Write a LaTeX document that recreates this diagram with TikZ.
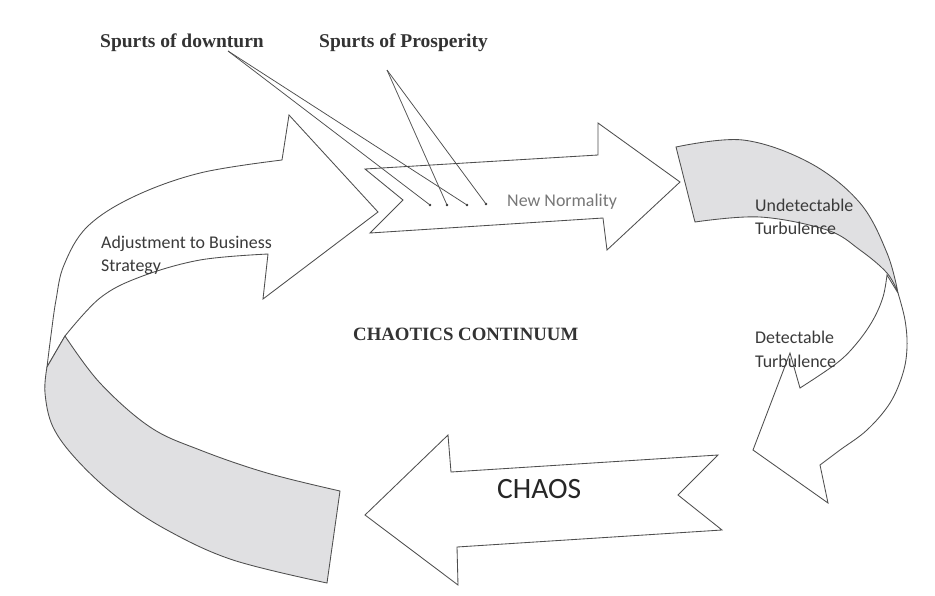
\documentclass[tikz,border=0pt]{standalone}
\usepackage{fontspec}
\setmainfont{Liberation Serif}
\newfontfamily\calib{Carlito}
\definecolor{linegray}{HTML}{4E4E4E}
\definecolor{bandgray}{HTML}{E0E0E2}
\definecolor{txtgray}{HTML}{3A3A3A}
\definecolor{softtxt}{HTML}{777777}
\begin{document}
\begin{tikzpicture}[x=1pt,y=-1pt,
  band/.style={draw=linegray, line width=0.85pt, fill=white, line join=miter},
  shade/.style={draw=linegray, line width=0.85pt, fill=bandgray},
  sanslabel/.style={inner sep=0, anchor=base west, font=\calib\fontsize{17.9}{23.5}\selectfont, text=txtgray},
  seriflabel/.style={inner sep=0, anchor=base west, font=\bfseries\fontsize{19.5}{23}\selectfont, text=black!80},
  leader/.style={draw=linegray, line width=0.75pt},
  dot/.style={circle, fill=black!80, inner sep=0, minimum size=2.6pt}]
\useasboundingbox[fill=white] (0,0) rectangle (935,595);

% left ribbon rising into the upper arrow
\path[band] plot[smooth, tension=0.6] coordinates {(47,367) (51,335) (56,300) (64,265) (87,227) (133,197) (200,173) (282,160)}
  -- (289,115) -- (378,212) -- (263,299) -- (268,254)
  -- plot[smooth, tension=0.6] coordinates {(268,254) (200,260) (140,277) (100,298) (65,336)} -- cycle;
% underside of the left ribbon
\path[shade] plot[smooth, tension=0.6] coordinates {(65,336) (100,383) (150,427) (200,450) (267,473) (340,491)}
  -- (327,583)
  -- plot[smooth, tension=0.6] coordinates {(327,583) (233,560) (167,530) (117,497) (77,460) (53,427) (45,393) (47,367)} -- cycle;

% New Normality arrow
\path[band] (365,169) -- (598,155) -- (598,123) -- (680,182) -- (607,250) -- (603,218) -- (370,233) -- (403,200) -- cycle;

% right ribbon bending down into the lower arrow
\path[band] plot[smooth, tension=0.6] coordinates {(898,293) (905,320) (907,347) (903,373) (890,403) (867,430) (840,450) (820,465)}
  -- (828,503) -- (753,450) -- (790,353) -- (800,388)
  -- plot[smooth, tension=0.6] coordinates {(800,388) (837,363) (857,343) (873,320) (883,297) (887,275)} -- cycle;
% underside of the right ribbon
\path[shade] plot[smooth, tension=0.6] coordinates {(676,147) (743,140) (810,163) (860,203) (887,253) (898,293)}
  -- plot[smooth, tension=0.6] coordinates {(898,293) (887,273) (860,250) (827,230) (760,217) (695,222)} -- cycle;

% CHAOS arrow
\path[band] (365,515) -- (448,435) -- (451,472) -- (718,455) -- (678,495) -- (722,530) -- (457,547) -- (458,585) -- cycle;

% labels
\node[seriflabel] (down) at (100,47) {Spurts of downturn};
\node[seriflabel] (pros) at (319,47) {Spurts of Prosperity};
\node[seriflabel, font=\bfseries\fontsize{18.8}{23}\selectfont] (cc) at (353,340) {CHAOTICS CONTINUUM};
\node[sanslabel, text=softtxt] (nn) at (507,206) {New Normality};
\node[sanslabel] (adj1) at (101,248) {Adjustment to Business};
\node[sanslabel] (adj2) at (101,271) {Strategy};
\node[sanslabel] (ut1) at (755,211) {Undetectable};
\node[sanslabel] (ut2) at (755,234) {Turbulence};
\node[sanslabel] (dt1) at (755,343) {Detectable};
\node[sanslabel] (dt2) at (755,367) {Turbulence};
\node[sanslabel, font=\calib\fontsize{29.5}{31}\selectfont, text=black!85] (chaos) at (497,498) {CHAOS};

% leader lines to the spurts
\coordinate (downsrc) at (228,51);
\coordinate (prossrc) at (387,70);
\node[dot] (s1) at (430,205) {};
\node[dot] (s2) at (447,205) {};
\node[dot] (s3) at (467,205) {};
\node[dot] (s4) at (486,204) {};
\draw[leader] (downsrc) -- (s1.center);
\draw[leader] (downsrc) -- (s3.center);
\draw[leader] (prossrc) -- (s2.center);
\draw[leader] (prossrc) -- (s4.center);
\end{tikzpicture}
\end{document}
